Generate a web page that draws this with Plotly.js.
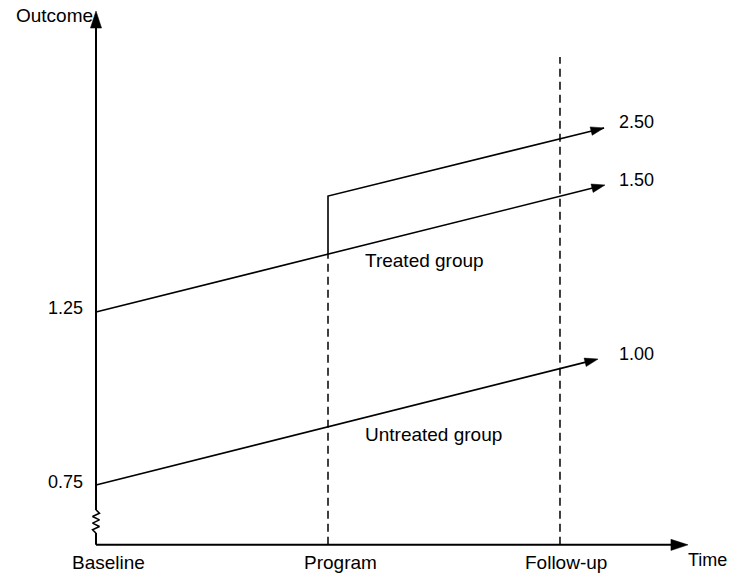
<!DOCTYPE html>
<html>
<head>
<meta charset="utf-8">
<script src="https://cdn.plot.ly/plotly-3.0.1.min.js"></script>
<style>html,body{margin:0;padding:0;background:#fff;}#chart{width:730px;height:576px;}</style>
</head>
<body>
<div id="chart"></div>
<script>
// ---- data (schematic units: time 0=Baseline, 1=Program, 2=Follow-up) ----
const timeLabels = ['Baseline', 'Program', 'Follow-up'];
const timePoints = [0, 1, 2];
const untreatedT = [0, 2.164];
const untreatedY = [0.75, 1.114];
const treatedT = [0, 2.194];
const treatedY = [1.25, 1.617];
const postT = [1, 1, 2.190];
const postY = [1.417, 1.585, 1.782];
const endLabels = ['1.00', '1.50', '2.50'];
const endLabelY = [1.129, 1.631, 1.799];
const startLabels = ['0.75', '1.25'];
const startLabelY = [0.759, 1.262];
const groupLabels = ['Treated group', 'Untreated group'];
const groupLabelY = [1.400, 0.897];
const axisBottom = 0.577;
const axisTopY = 2.120;
const axisRightT = 2.552;
const dashTopY = [1.417, 1.987];
const zigY = [0.611, 0.6206, 0.6301, 0.6397, 0.6493, 0.6589, 0.6684, 0.678];
const zigX = [0, -0.015, 0.015, -0.015, 0.015, -0.015, 0.015, 0];

const FONT = 'Liberation Sans, Arial, Helvetica, sans-serif';
const black = '#000000';

const traces = [];
function line(x, y, w, dash, shape) {
  traces.push({x: x, y: y, mode: 'lines', hoverinfo: 'skip', showlegend: false,
    line: {color: black, width: w, dash: dash || 'solid', shape: shape || 'linear'}});
}
function arrowLine(x, y, w, headSize) {
  const sizes = x.map((v, i) => i === x.length - 1 ? headSize : 0);
  traces.push({x: x, y: y, mode: 'lines+markers', hoverinfo: 'skip', showlegend: false,
    line: {color: black, width: w},
    marker: {symbol: 'arrow', angleref: 'previous', size: sizes, color: black, opacity: 1,
             line: {width: 0.5, color: black}}});
}
// axes
arrowLine([timePoints[0], axisRightT], [axisBottom, axisBottom], 2, 18);
line([0, 0], [axisBottom, zigY[0]], 2);
line(zigX, zigY, 1.5, 'solid', 'linear');
arrowLine([0, 0], [zigY[zigY.length - 1], axisTopY], 2, 18);
// dashed verticals
line([timePoints[1], timePoints[1]], [axisBottom, dashTopY[0]], 1.5, '8px,5px');
line([timePoints[2], timePoints[2]], [axisBottom, dashTopY[1]], 1.5, '8px,5px');
// outcome lines
arrowLine(untreatedT, untreatedY, 1.6, 14);
arrowLine(treatedT, treatedY, 1.6, 14);
arrowLine(postT, postY, 1.6, 14);

const ann = [];
function label(text, x, y, xanchor, size) {
  ann.push({x: x, y: y, xref: 'x', yref: 'y', text: text, showarrow: false,
    xanchor: xanchor, yanchor: 'middle', font: {family: FONT, size: size || 19, color: black}});
}
const tOffsets = [0.056, 0.056, 0.026];
timeLabels.forEach((t, i) => label(t, timePoints[i] + tOffsets[i], 0.527, 'center'));
endLabels.forEach((t, i) => label(t, 2.246, endLabelY[i], 'left', 18));
startLabels.forEach((t, i) => label(t, -0.047, startLabelY[i], 'right', 18));
groupLabels.forEach((t, i) => label(t, 1.151, groupLabelY[i], 'left'));
label('Outcome', -0.353, 2.1055, 'left');
label('Time', 2.727, 0.532, 'right', 18);

const layout = {
  width: 730, height: 576,
  margin: {l: 0, r: 0, t: 0, b: 0},
  paper_bgcolor: '#fff', plot_bgcolor: '#fff',
  showlegend: false,
  xaxis: {range: [-0.4138, 2.7328], visible: false, fixedrange: true},
  yaxis: {range: [0.487, 2.1517], visible: false, fixedrange: true},
  annotations: ann
};
Plotly.newPlot('chart', traces, layout, {displayModeBar: false, staticPlot: true});
</script>
</body>
</html>
